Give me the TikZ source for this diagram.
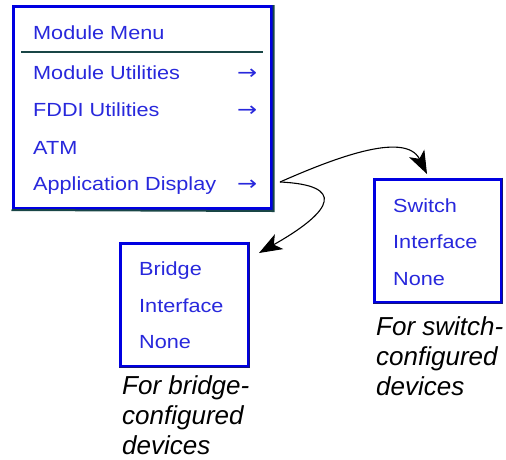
\documentclass[tikz,border=0pt]{standalone}
\usepackage{fontspec}
\setmainfont{Liberation Sans}
\newfontfamily\guifont[FakeStretch=1.14]{Liberation Sans}
\newfontfamily\arrowfont[FakeStretch=1.2]{DejaVu Sans}
\usetikzlibrary{arrows.meta}
\definecolor{menublue}{RGB}{0,0,225}
\definecolor{itemblue}{RGB}{40,40,220}
\definecolor{menushadow}{RGB}{25,70,70}
\definecolor{navy}{RGB}{20,20,120}

\begin{document}
\begin{tikzpicture}[x=1pt, y=-1pt, every node/.style={inner sep=0pt},
  panel/.style={draw=menublue, line width=3pt, fill=white},
  item/.style={anchor=base west, text=itemblue, font=\guifont\fontsize{19}{22}\selectfont},
  note/.style={anchor=base west, align=left, font=\itshape\fontsize{26}{30}\selectfont},
  jump/.style={line width=1.1pt, -{Stealth[length=23pt,width=17pt,inset=6pt]}}]
\useasboundingbox (0,0) rectangle (506,459);
% main menu
\node[panel, minimum width=258pt, minimum height=202pt] (menu) at (142,107.5) {};
\draw[menushadow, line width=2pt] ([xshift=1pt]menu.north east) -- ([xshift=1pt, yshift=-1pt]menu.south east) -- (menu.south west);
\draw[menushadow, line width=2pt] (21,52) -- (263,52);
\node[item] (title) at (33,39) {Module Menu};
\node[item] (modutil) at (33,79) {Module Utilities};
\node[item] (fddi) at (33,116) {FDDI Utilities};
\node[item] (atm) at (33,154) {ATM};
\node[item] (appdisp) at (33,190) {Application Display};
\foreach \y/\n in {79/modutil, 116/fddi, 190/appdisp}
  \node[item, font=\arrowfont\fontsize{20}{22}\selectfont] (\n-arr) at (237,\y) {→};
% popup for bridges
\node[panel, minimum width=128pt, minimum height=123pt] (bridge) at (184,304.5) {};
\draw[navy, line width=1pt] (bridge.north east) -- (bridge.south east) -- (bridge.south west);
\node[item] (bridge-1) at (139,275) {Bridge};
\node[item] (bridge-2) at (139,312) {Interface};
\node[item] (bridge-3) at (139,348) {None};
\node[note] (bridge-note) at (122,454) {For bridge-\\configured\\devices};
% popup for switches
\node[panel, minimum width=127pt, minimum height=123pt] (switch) at (437.5,240.5) {};
\draw[navy, line width=1pt] (switch.north east) -- (switch.south east) -- (switch.south west);
\node[item] (switch-1) at (393,212) {Switch};
\node[item] (switch-2) at (393,248) {Interface};
\node[item] (switch-3) at (393,285) {None};
\node[note] (switch-note) at (376,395) {For switch-\\configured\\devices};
% connectors
\coordinate (src) at (280,182);
\coordinate (switch-tip) at (427,174);
\coordinate (bridge-tip) at (259,253);
\draw[jump] (src) .. controls (330,160) and (405,130) .. (switch-tip);
\draw[jump] (src) .. controls (345,185) and (335,210) .. (bridge-tip);
\end{tikzpicture}
\end{document}
